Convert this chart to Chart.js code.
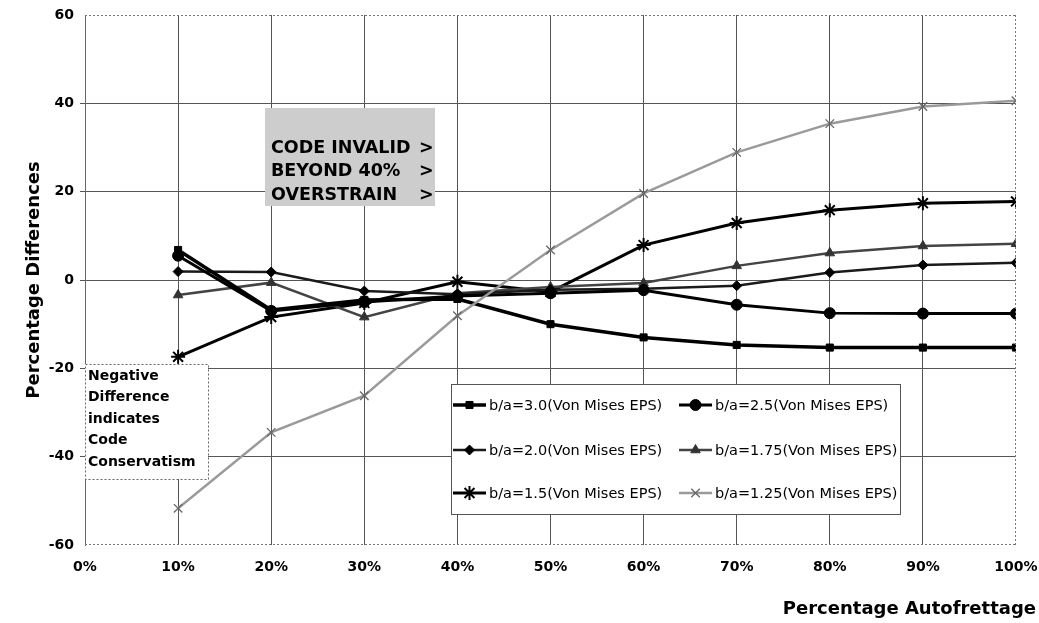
<!DOCTYPE html>
<html>
<head>
<meta charset="utf-8">
<script src="https://cdn.jsdelivr.net/npm/chart.js@4/dist/chart.umd.min.js"></script>
<style>
html,body{margin:0;padding:0;background:#fff;}
#wrap{width:1039px;height:623px;position:relative;}
</style>
</head>
<body>
<div id="wrap"><canvas id="c" width="1039" height="623"></canvas></div>
<script>
// ---- data ----
const autofrettage = [10, 20, 30, 40, 50, 60, 70, 80, 90, 100];
const ba30  = [6.8, -6.8, -4.5, -4.3, -10.0, -13.0, -14.7, -15.3, -15.3, -15.3];
const ba25  = [5.5, -7.0, -5.0, -3.6, -3.0, -2.3, -5.6, -7.5, -7.6, -7.6];
const ba20  = [1.9, 1.8, -2.5, -3.2, -2.2, -2.0, -1.3, 1.7, 3.4, 3.9];
const ba175 = [-3.4, -0.6, -8.4, -3.0, -1.6, -0.7, 3.2, 6.1, 7.7, 8.2];
const ba15  = [-17.4, -8.4, -5.2, -0.4, -2.7, 7.9, 12.9, 15.8, 17.4, 17.8];
const ba125 = [-51.7, -34.5, -26.2, -8.1, 6.8, 19.6, 28.9, 35.4, 39.3, 40.6];
const seriesNames = [
  'b/a=3.0(Von Mises EPS)', 'b/a=2.5(Von Mises EPS)', 'b/a=2.0(Von Mises EPS)',
  'b/a=1.75(Von Mises EPS)', 'b/a=1.5(Von Mises EPS)', 'b/a=1.25(Von Mises EPS)'
];
const xTicks = [0, 10, 20, 30, 40, 50, 60, 70, 80, 90, 100];
const yTicks = [-60, -40, -20, 0, 20, 40, 60];
const yTitle = 'Percentage Differences';
const xTitle = 'Percentage Autofrettage';
const noteTop = ['CODE INVALID', 'BEYOND 40%', 'OVERSTRAIN'];
const noteLeft = ['Negative', 'Difference', 'indicates', 'Code', 'Conservatism'];

const pts = arr => arr.map((v, i) => ({x: autofrettage[i], y: v}));

const styles = [
  {color:'#000', width:3.5, point:'rect', r:5, pc:'#000', pbw:1},
  {color:'#000', width:3, point:'circle', r:5.5, pc:'#000', pbw:1},
  {color:'#1a1a1a', width:2.5, point:'rectRot', r:5, pc:'#000', pbw:1},
  {color:'#444', width:2.5, point:'triangle', r:5.5, pc:'#333', pbw:1},
  {color:'#000', width:3, point:'star', r:7, pc:'#000', pbw:2},
  {color:'#9a9a9a', width:2.5, point:'crossRot', r:6, pc:'#666', pbw:1.3}
];
const values = [ba30, ba25, ba20, ba175, ba15, ba125];

const datasets = values.map((v, i) => ({
  label: seriesNames[i],
  data: pts(v),
  borderColor: styles[i].color,
  backgroundColor: styles[i].pc,
  borderWidth: styles[i].width,
  pointStyle: styles[i].point,
  pointRadius: styles[i].r,
  pointBorderColor: styles[i].pc,
  pointBackgroundColor: styles[i].pc,
  pointBorderWidth: styles[i].pbw,
  tension: 0,
  order: i === 5 ? -1 : i
}));

const FONT = "'DejaVu Sans', sans-serif";

const overlay = {
  id: 'overlay',
  afterDraw(chart) {
    const ctx = chart.ctx;
    const ca = chart.chartArea;
    ctx.save();
    // dotted frame on top/right/bottom
    ctx.strokeStyle = '#777';
    ctx.lineWidth = 1;
    ctx.setLineDash([2, 2]);
    ctx.beginPath();
    ctx.moveTo(ca.left, ca.top + 0.5); ctx.lineTo(ca.right, ca.top + 0.5);
    ctx.moveTo(ca.right - 0.5, ca.top); ctx.lineTo(ca.right - 0.5, ca.bottom);
    ctx.moveTo(ca.left, ca.bottom - 0.5); ctx.lineTo(ca.right, ca.bottom - 0.5);
    ctx.stroke();
    ctx.setLineDash([]);

    // gray note box
    ctx.fillStyle = '#cdcdcd';
    ctx.fillRect(265, 108, 170, 98);
    ctx.fillStyle = '#000';
    ctx.font = "bold 17.5px " + FONT;
    ctx.textBaseline = 'middle';
    ctx.textAlign = 'left';
    const ys = [148, 171, 195];
    noteTop.forEach((t, i) => { ctx.fillText(t, 271, ys[i]); ctx.fillText('>', 419, ys[i]); });

    // left note box
    ctx.fillStyle = '#fff';
    ctx.fillRect(ca.left, 364, 208 - ca.left, 115);
    ctx.strokeStyle = '#666';
    ctx.setLineDash([2, 2]);
    ctx.strokeRect(ca.left + 0.5, 364.5, 208 - ca.left, 115);
    ctx.setLineDash([]);
    ctx.fillStyle = '#000';
    ctx.font = "bold 14px " + FONT;
    noteLeft.forEach((t, i) => ctx.fillText(t, 88, 376 + i * 21.5));

    // legend box
    const lx = 451, ly = 384, lw = 449, lh = 130;
    ctx.fillStyle = '#fff';
    ctx.fillRect(lx, ly, lw, lh);
    ctx.strokeStyle = '#555';
    ctx.lineWidth = 1;
    ctx.strokeRect(lx + 0.5, ly + 0.5, lw, lh);
    const rowY = [405, 450, 493];
    const colX = [453, 679];
    ctx.font = "14.5px " + FONT;
    datasets.forEach((ds, i) => {
      const col = i % 2, row = Math.floor(i / 2);
      const x0 = colX[col], y0 = rowY[row];
      const st = styles[i];
      ctx.strokeStyle = st.color;
      ctx.lineWidth = st.width;
      ctx.beginPath(); ctx.moveTo(x0, y0); ctx.lineTo(x0 + 33, y0); ctx.stroke();
      ctx.fillStyle = st.pc; ctx.strokeStyle = st.pc; ctx.lineWidth = st.pbw;
      Chart.helpers.drawPoint(ctx, {pointStyle: st.point, radius: st.r, rotation: 0, borderWidth: st.pbw}, x0 + 16.5, y0);
      ctx.fillStyle = '#000';
      ctx.fillText(ds.label, x0 + 36, y0 + 1);
    });

    // x axis title
    ctx.font = "bold 18px " + FONT;
    ctx.textAlign = 'right';
    ctx.fillText(xTitle, 1036, 609);
    ctx.restore();
  }
};

new Chart(document.getElementById('c'), {
  type: 'line',
  data: { datasets },
  options: {
    responsive: false,
    animation: false,
    layout: { padding: { left: 0, right: 23, top: 15, bottom: 0 } },
    plugins: { legend: { display: false }, tooltip: { enabled: false } },
    scales: {
      x: {
        type: 'linear', min: 0, max: 100,
        afterBuildTicks: s => { s.ticks = xTicks.map(v => ({value: v})); },
        afterFit: s => { s.height = 78; s.paddingRight = 0; s.paddingLeft = 0; },
        grid: { color: ctx => (ctx.tick && (ctx.tick.value === 100)) ? 'rgba(0,0,0,0)' : '#555', lineWidth: 1, drawTicks: false },
        border: { display: false },
        ticks: { color: '#000', padding: 14, maxRotation: 0, font: { family: FONT, weight: 'bold', size: 14 }, callback: v => v + '%' }
      },
      y: {
        min: -60, max: 60,
        afterBuildTicks: s => { s.ticks = yTicks.map(v => ({value: v})); },
        afterFit: s => { s.width = 85; s.paddingTop = 0; s.paddingBottom = 0; },
        grid: { color: ctx => (ctx.tick && (ctx.tick.value === 60 || ctx.tick.value === -60)) ? 'rgba(0,0,0,0)' : '#555', lineWidth: 1, tickLength: 5 },
        border: { display: true, color: '#666', width: 1 },
        ticks: { color: '#000', padding: 6, font: { family: FONT, weight: 'bold', size: 14 } },
        title: { display: true, text: yTitle, color: '#000', padding: { top: 24, bottom: 0 }, font: { family: FONT, weight: 'bold', size: 18 } }
      }
    }
  },
  plugins: [overlay]
});
</script>
</body>
</html>
